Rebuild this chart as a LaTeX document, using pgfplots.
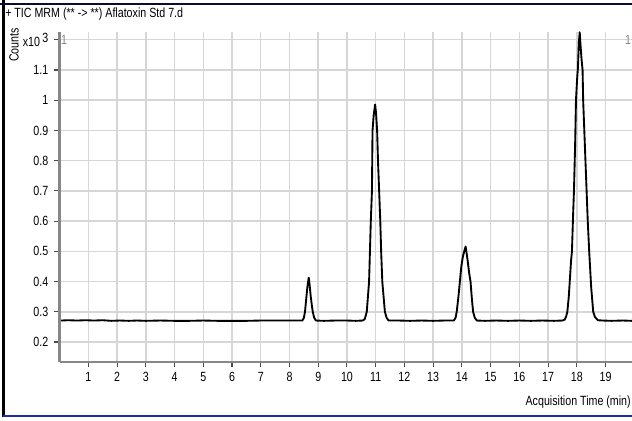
\documentclass[border=0pt]{standalone}
\usepackage{fontspec}
\setmainfont{Liberation Sans}[FakeStretch=0.8]
\usepackage{pgfplots}
\pgfplotsset{compat=1.18}
\definecolor{gridgray}{RGB}{214,214,214}
\definecolor{axisgray}{RGB}{135,135,135}
\definecolor{framenavy}{RGB}{12,12,50}
\definecolor{bluerule}{RGB}{30,45,160}
\newcommand{\lbl}{\fontsize{10}{11}\selectfont}

\begin{document}
\begin{tikzpicture}[x=0.75pt,y=0.75pt]
\path[use as bounding box] (0,0) rectangle (632,421);
\fill[white] (0,0) rectangle (632,421);

\begin{axis}[
  at={(44.7pt,44.25pt)}, anchor=south west, scale only axis,
  width=429.3pt, height=247.5pt,
  xmin=0, xmax=19.92, ymin=0.1338, ymax=1.2257,
  axis x line*=bottom, axis y line*=left,
  axis line style={-, axisgray, line width=2pt},
  xtick={1,2,3,4,5,6,7,8,9,10,11,12,13,14,15,16,17,18,19},
  ytick={0.2,0.3,0.4,0.5,0.6,0.7,0.8,0.9,1.0,1.1,1.2},
  yticklabels={0.2,0.3,0.4,0.5,0.6,0.7,0.8,0.9,1,1.1,x10\,\raisebox{0.35em}{3}},
  tick align=outside, major tick length=4pt,
  tick style={black!70, line width=0.8pt},
  grid=major, major grid style={gridgray, line width=1.1pt},
  ticklabel style={font=\lbl},
  yticklabel style={xshift=-1pt},
  /pgf/number format/assume math mode=true,
  clip=true,
]
% baseline and the four aflatoxin peaks
\addplot[black, line width=1.4pt, line join=round] coordinates {
(0.05,0.271)(0.3,0.272)(0.6,0.271)(0.9,0.272)(1.2,0.271)(1.5,0.272)(1.8,0.270)
(2.1,0.271)(2.4,0.270)(2.7,0.271)(3.0,0.270)(3.5,0.271)(4.0,0.270)(4.5,0.270)
(5.0,0.271)(5.5,0.270)(6.0,0.270)(6.5,0.270)(7.0,0.271)(7.5,0.271)(8.0,0.271)
(8.45,0.271)(8.50,0.280)(8.54,0.300)(8.58,0.340)(8.62,0.380)(8.65,0.400)(8.67,0.413)
(8.70,0.390)(8.74,0.350)(8.78,0.320)(8.81,0.300)(8.86,0.280)(8.92,0.271)
(9.2,0.270)(9.6,0.271)(10.0,0.271)(10.3,0.270)
(10.55,0.271)(10.62,0.276)(10.69,0.300)(10.73,0.350)(10.77,0.400)(10.80,0.500)
(10.83,0.600)(10.87,0.700)(10.89,0.900)(10.93,0.950)(10.98,0.986)(11.01,0.960)
(11.05,0.900)(11.08,0.800)(11.12,0.700)(11.16,0.600)(11.19,0.500)(11.23,0.400)
(11.32,0.300)(11.38,0.280)(11.45,0.271)
(11.8,0.271)(12.2,0.270)(12.6,0.271)(13.0,0.270)(13.4,0.271)
(13.72,0.271)(13.78,0.280)(13.82,0.300)(13.88,0.350)(13.93,0.400)(13.98,0.450)
(14.03,0.480)(14.08,0.500)(14.13,0.516)(14.17,0.490)(14.20,0.470)(14.25,0.430)
(14.30,0.400)(14.35,0.340)(14.39,0.300)(14.45,0.280)(14.52,0.271)
(14.8,0.270)(15.2,0.271)(15.6,0.270)(16.0,0.271)(16.4,0.270)(16.8,0.271)(17.2,0.270)
(17.50,0.271)(17.58,0.274)(17.63,0.285)(17.67,0.300)(17.72,0.350)(17.76,0.410)
(17.80,0.470)(17.83,0.500)(17.87,0.620)(17.90,0.700)(17.94,0.850)(17.97,1.000)
(18.01,1.070)(18.04,1.110)(18.07,1.190)(18.10,1.225)(18.13,1.180)(18.16,1.140)
(18.20,1.100)(18.22,1.000)(18.28,0.850)(18.34,0.700)(18.38,0.600)(18.43,0.500)
(18.50,0.380)(18.57,0.300)(18.63,0.283)(18.73,0.272)(18.9,0.271)
(19.2,0.270)(19.6,0.271)(19.92,0.270)
};
\end{axis}

% window frame
\draw[black, line width=1.8pt] (3.5,4) -- (3.5,421);
\draw[framenavy, line width=2.2pt] (0,417) -- (632,417);
\draw[bluerule, line width=1.5pt] (3,5) -- (632,5);

% texts
\node[anchor=west, inner sep=0, font=\lbl] at (5,407) {+ TIC MRM (** -> **) Aflatoxin Std 7.d};
\node[rotate=90, inner sep=0, font=\lbl] at (14,376) {Counts};
\node[inner sep=0, font=\lbl, text=axisgray] at (64,381) {1};
\node[inner sep=0, font=\lbl, text=axisgray] at (628,381) {1};
\node[anchor=east, inner sep=0, font=\lbl] at (631,19) {Acquisition Time (min)};
\end{tikzpicture}
\end{document}
